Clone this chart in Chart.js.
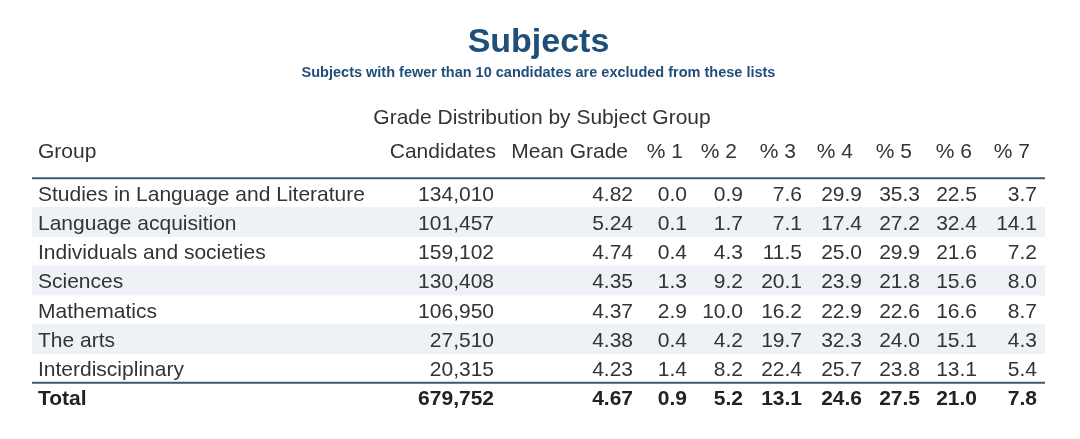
<!DOCTYPE html>
<html>
<head>
<meta charset="utf-8">
<script src="https://cdn.jsdelivr.net/npm/chart.js@4"></script>
<style>
  html, body { margin: 0; padding: 0; background: #fff; }
  #wrap { width: 1080px; height: 439px; }
</style>
</head>
<body>
<div id="wrap"><canvas id="gradeTable"></canvas></div>
<script>
const groups = ['Studies in Language and Literature', 'Language acquisition', 'Individuals and societies',
  'Sciences', 'Mathematics', 'The arts', 'Interdisciplinary'];
const candidates = [134010, 101457, 159102, 130408, 106950, 27510, 20315];
const meanGrade = [4.82, 5.24, 4.74, 4.35, 4.37, 4.38, 4.23];
const pct1 = [0.0, 0.1, 0.4, 1.3, 2.9, 0.4, 1.4];
const pct2 = [0.9, 1.7, 4.3, 9.2, 10.0, 4.2, 8.2];
const pct3 = [7.6, 7.1, 11.5, 20.1, 16.2, 19.7, 22.4];
const pct4 = [29.9, 17.4, 25.0, 23.9, 22.9, 32.3, 25.7];
const pct5 = [35.3, 27.2, 29.9, 21.8, 22.6, 24.0, 23.8];
const pct6 = [22.5, 32.4, 21.6, 15.6, 16.6, 15.1, 13.1];
const pct7 = [3.7, 14.1, 7.2, 8.0, 8.7, 4.3, 5.4];
const totalLabel = 'Total';
const totalCandidates = 679752;
const totalMean = 4.67;
const totalPct = [0.9, 5.2, 13.1, 24.6, 27.5, 21.0, 7.8];
const headers = ['Group', 'Candidates', 'Mean Grade', '% 1', '% 2', '% 3', '% 4', '% 5', '% 6', '% 7'];

// column anchors on the x scale (left edge for the group name, right edges for numbers)
const groupX = 38;
const valueRight = [494, 633, 687, 743, 802, 862, 920, 977, 1037];
const headRight = [496, 628, 683, 737, 796, 853, 912, 972, 1030];

const rowLabels = groups.concat([totalLabel]);
const pctCols = [pct1, pct2, pct3, pct4, pct5, pct6, pct7];
const stripes = rowLabels.map((g, i) => (i % 2 === 1 && i < groups.length) ? 1045 : null);

const FONT = "'Liberation Sans', Arial, sans-serif";
const TEXT = '#333333';
const NAVY = '#1f4e79';
const BODY = 21;

function rowCells(i) {
  if (i === groups.length) {
    return [totalCandidates.toLocaleString('en-US'), totalMean.toFixed(2)].concat(totalPct.map(v => v.toFixed(1)));
  }
  return [candidates[i].toLocaleString('en-US'), meanGrade[i].toFixed(2)].concat(pctCols.map(c => c[i].toFixed(1)));
}

const tablePlugin = {
  id: 'tableText',
  afterDatasetsDraw(chart) {
    const { ctx, chartArea, scales: { x, y } } = chart;
    ctx.save();
    ctx.textBaseline = 'middle';
    ctx.fillStyle = TEXT;

    // caption + header
    ctx.font = BODY + 'px ' + FONT;
    ctx.textAlign = 'center';
    ctx.fillText('Grade Distribution by Subject Group', 542, chartArea.top - 60);
    const hy = chartArea.top - 26;
    ctx.textAlign = 'left';
    ctx.fillText(headers[0], x.getPixelForValue(groupX), hy);
    ctx.textAlign = 'right';
    headers.slice(1).forEach((h, j) => ctx.fillText(h, x.getPixelForValue(headRight[j]), hy));

    // rows
    rowLabels.forEach((label, i) => {
      const yy = y.getPixelForValue(i) + 2;
      const bold = i === groups.length;
      ctx.font = (bold ? 'bold ' : '') + BODY + 'px ' + FONT;
      ctx.fillStyle = bold ? '#222' : TEXT;
      ctx.textAlign = 'left';
      ctx.fillText(label, x.getPixelForValue(groupX), yy);
      ctx.textAlign = 'right';
      rowCells(i).forEach((c, j) => ctx.fillText(c, x.getPixelForValue(valueRight[j]), yy));
    });

    // rules
    ctx.strokeStyle = '#3d5a70';
    ctx.lineWidth = 2;
    ctx.beginPath();
    ctx.moveTo(chartArea.left, chartArea.top);
    ctx.lineTo(chartArea.right, chartArea.top);
    const ty = (y.getPixelForValue(groups.length - 1) + y.getPixelForValue(groups.length)) / 2;
    ctx.moveTo(chartArea.left, ty);
    ctx.lineTo(chartArea.right, ty);
    ctx.stroke();
    ctx.restore();
  }
};

new Chart(document.getElementById('gradeTable'), {
  type: 'bar',
  data: {
    labels: rowLabels,
    datasets: [{ data: stripes, backgroundColor: '#eef2f6', barPercentage: 1, categoryPercentage: 1, borderWidth: 0 }]
  },
  options: {
    indexAxis: 'y',
    responsive: true,
    maintainAspectRatio: false,
    animation: false,
    layout: { padding: { top: 0, left: 32, right: 35, bottom: 27 } },
    plugins: {
      legend: { display: false },
      tooltip: { enabled: false },
      title: {
        display: true, text: 'Subjects', color: NAVY,
        font: { family: FONT, size: 34, weight: 'bold' }, padding: { top: 22, bottom: 1 }
      },
      subtitle: {
        display: true, text: 'Subjects with fewer than 10 candidates are excluded from these lists', color: NAVY,
        font: { family: FONT, size: 14.5, weight: 'bold' }, padding: { top: 0, bottom: 97 }
      }
    },
    scales: {
      x: { type: 'linear', min: 32, max: 1045, display: false },
      y: { display: false, offset: true }
    }
  },
  plugins: [tablePlugin]
});
</script>
</body>
</html>
